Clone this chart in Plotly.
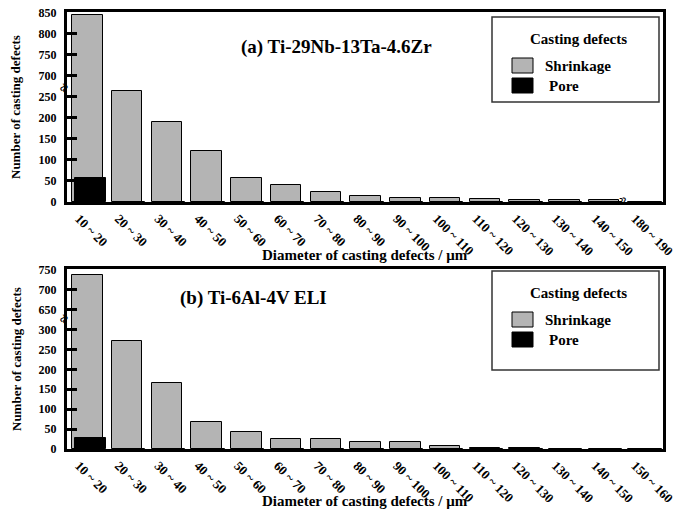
import plotly.graph_objects as go
from plotly.subplots import make_subplots

# ---- data ----
cats_a = ["10 ~ 20", "20 ~ 30", "30 ~ 40", "40 ~ 50", "50 ~ 60", "60 ~ 70", "70 ~ 80",
          "80 ~ 90", "90 ~ 100", "100 ~ 110", "110 ~ 120", "120 ~ 130", "130 ~ 140",
          "140 ~ 150", "180 ~ 190"]
shrink_a = [845, 264, 190, 121, 56, 40, 23, 15, 9, 9, 6, 5, 5, 5, 1]
pore_a = [57, 0, 0, 0, 0, 0, 0, 0, 0, 0, 0, 0, 0, 0, 0]

cats_b = ["10 ~ 20", "20 ~ 30", "30 ~ 40", "40 ~ 50", "50 ~ 60", "60 ~ 70", "70 ~ 80",
          "80 ~ 90", "90 ~ 100", "100 ~ 110", "110 ~ 120", "120 ~ 130", "130 ~ 140",
          "140 ~ 150", "150 ~ 160"]
shrink_b = [736, 272, 167, 67, 42, 25, 25, 17, 18, 7, 2, 2, 1, 1, 1]
pore_b = [27, 0, 0, 0, 0, 0, 0, 0, 0, 0, 0, 0, 0, 0, 0]

ticks_a = [0, 50, 100, 150, 200, 250, 700, 750, 800, 850]
ticks_b = [0, 50, 100, 150, 200, 250, 300, 650, 700, 750]

series_names = ["Shrinkage", "Pore"]
legend_title = "Casting defects"

# broken-axis mapping: values above the break are shifted down
BREAK_A = (700, 400)   # (start of upper segment, shift)
BREAK_B = (650, 300)


def brk(v, b):
    return v - b[1] if v >= b[0] else v


W, H = 676, 513
L, R = 67, 13
PW = W - L - R

FAM = "Liberation Serif"
GRAY = "#b4b4b4"


def F(size):
    return dict(size=size, family=FAM, color="black", weight="bold")


fig = make_subplots(rows=2, cols=1)

for row, cats, sh, po, b in [(1, cats_a, shrink_a, pore_a, BREAK_A),
                             (2, cats_b, shrink_b, pore_b, BREAK_B)]:
    fig.add_trace(go.Bar(x=cats, y=[brk(v, b) for v in sh], customdata=sh,
                         hovertemplate="%{x}: %{customdata}<extra>Shrinkage</extra>",
                         name=series_names[0], showlegend=False,
                         marker=dict(color=GRAY, line=dict(color="black", width=1)),
                         width=0.77, offset=-0.37), row=row, col=1)
    fig.add_trace(go.Bar(x=cats, y=[brk(v, b) for v in po], customdata=po,
                         hovertemplate="%{x}: %{customdata}<extra>Pore</extra>",
                         name=series_names[1], showlegend=False,
                         marker=dict(color="black", line=dict(color="black", width=1)),
                         width=0.78, offset=-0.31), row=row, col=1)

dom_a = [1 - 202 / H, 1 - 12 / H]
dom_b = [1 - 449 / H, 1 - 269 / H]

common_x = dict(showline=True, linewidth=3, linecolor="black", mirror=True, ticks="",
                tickangle=45, tickfont=F(13), automargin=False,
                ticklabelshift=-8, ticklabelstandoff=1,
                range=[-0.5, 14.5], showgrid=False, zeroline=False)
common_y = dict(showline=True, linewidth=3, linecolor="black", mirror=True, ticks="inside",
                ticklen=10, tickwidth=2.5, tickcolor="black", automargin=False,
                tickfont=F(12),
                showgrid=False, zeroline=False, range=[0, 452], ticklabelstandoff=5)

fig.update_xaxes(**common_x, row=1, col=1)
fig.update_xaxes(**common_x, row=2, col=1)
fig.update_yaxes(**common_y, tickvals=[brk(v, BREAK_A) for v in ticks_a],
                 ticktext=[str(v) for v in ticks_a], domain=dom_a, row=1, col=1)
fig.update_yaxes(**common_y, tickvals=[brk(v, BREAK_B) for v in ticks_b],
                 ticktext=[str(v) for v in ticks_b], domain=dom_b, row=2, col=1)


def px_x(px):
    return (px - L) / PW


def px_y(py):
    return 1 - py / H


ann = []
shapes = []


def text(t, x, y, size, **kw):
    d = dict(text=t, x=px_x(x), y=px_y(y), xref="paper", yref="paper", showarrow=False,
             xanchor="center", yanchor="middle", font=F(size))
    d.update(kw)
    ann.append(d)


for yc, xt in [(107, 255), (359, 501)]:
    text("Number of casting defects", 16, yc, 13, textangle=-90)
    text("Diameter of casting defects / μm", 365, xt, 15)
text("(a) Ti-29Nb-13Ta-4.6Zr", 336, 47, 19)
text("(b) Ti-6Al-4V ELI", 253, 298, 19)
# axis-break marks
for bx, by, ang in [(64, 88, -60), (64, 319, -60), (623, 201, 80)]:
    text("≈", bx, by, 15, textangle=ang)

# legend boxes (one per panel)
for top, bottom in [(17, 102), (271, 370)]:
    shapes.append(dict(type="rect", xref="paper", yref="paper",
                       x0=px_x(492), x1=px_x(659), y0=px_y(bottom), y1=px_y(top),
                       line=dict(color="#333333", width=1.5), fillcolor="white"))
    text(legend_title, 578, top + 22, 15)
    for i, (nm, col, tx) in enumerate([(series_names[0], GRAY, 543),
                                       (series_names[1], "black", 547)]):
        sy = top + 41 + i * 20
        shapes.append(dict(type="rect", xref="paper", yref="paper",
                           x0=px_x(512), x1=px_x(533), y0=px_y(sy + 15), y1=px_y(sy),
                           line=dict(color="black", width=1), fillcolor=col))
        text(nm, tx, sy + 8, 15, xanchor="left")

fig.update_layout(
    width=W, height=H, margin=dict(l=L, r=R, t=0, b=0, autoexpand=False),
    paper_bgcolor="white", plot_bgcolor="white",
    font=dict(family=FAM, weight="bold", color="black"),
    barmode="overlay", bargap=0,
    annotations=ann, shapes=shapes,
    showlegend=False,
)

fig.write_html("out.html", config={"displayModeBar": False},
               post_script="document.body.style.margin='0';")
